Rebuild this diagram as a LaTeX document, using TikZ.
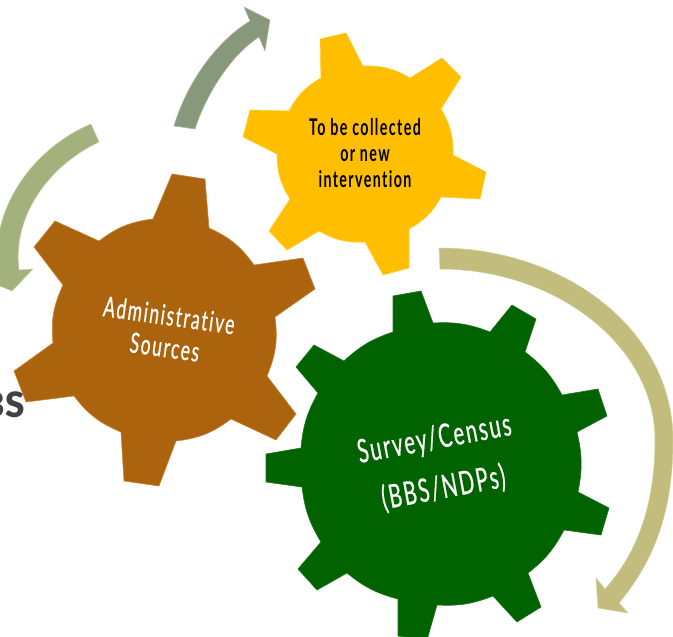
\documentclass[tikz,border=0pt]{standalone}
\usepackage{fontspec}
\newfontfamily\gearfont[FakeStretch=0.62,FakeBold=0.6,LetterSpace=6,Ligatures=NoCommon]{Lato}
\newfontfamily\gearboldfont[FakeStretch=0.62,LetterSpace=6,Ligatures=NoCommon]{Lato Bold}
\newfontfamily\cutfont{Lato Black}
\tikzset{
  gear/.style={line width=0.6pt,line join=miter,every to/.style={bend left=#1}},
  sweep/.style={line width=0.5pt,line join=miter},
  gearlabel/.style={inner sep=0pt,align=center,font=\gearfont}
}
\begin{document}
\begin{tikzpicture}[x=1pt,y=-1pt]
%
\useasboundingbox (0,0) rectangle (673,637);
%
\definecolor{cbrown}{rgb}{0.67,0.39,0.05}
\definecolor{cdbrown}{rgb}{0.78,0.52,0.22}
\definecolor{cyellow}{rgb}{1.0,0.75,0.0}
\definecolor{cdyellow}{rgb}{1.0,0.82,0.20}
\definecolor{cgreen}{rgb}{0.0,0.39,0.0}
\definecolor{cdgreen}{rgb}{0.12,0.46,0.12}
\definecolor{csweepa}{rgb}{0.64,0.70,0.49}
\definecolor{cdsweepa}{rgb}{0.76,0.81,0.64}
\definecolor{csweepb}{rgb}{0.53,0.60,0.48}
\definecolor{cdsweepb}{rgb}{0.68,0.74,0.64}
\definecolor{csweepc}{rgb}{0.76,0.74,0.49}
\definecolor{cdsweepc}{rgb}{0.83,0.81,0.62}
\definecolor{ccut}{rgb}{0.25,0.25,0.27}
%
\node[anchor=base east,inner sep=0pt,text=ccut,font=\cutfont\fontsize{35}{35}\selectfont] (cut) at (25,417) {BS};
%
\fill[csweepa,draw=cdsweepa,sweep] (91,124) .. controls (40,145) and (-8,200) .. (-3,268) -- (-15,280) -- (12,291) -- (33,269) -- (19,270) .. controls (12,215) and (50,165) .. (99,142) -- cycle;
\fill[csweepb,draw=cdsweepb,sweep] (174,126) .. controls (186,85) and (215,42) .. (250,21) -- (244,7) -- (270,20) -- (265,51) -- (259,37) .. controls (230,56) and (206,95) .. (195,129) -- cycle;
\fill[csweepc,draw=cdsweepc,sweep] (439,248) .. controls (565,248) and (673,330) .. (673,440) .. controls (673,510) and (655,560) .. (619,603) -- (628,613) -- (598,608) -- (596,578) -- (605,589) .. controls (640,550) and (655,500) .. (655,440) .. controls (655,345) and (555,269) .. (440,269) -- cycle;
%
\fill[cyellow,draw=cdyellow,gear=16] (320,39) -- (346,33) -- (363,66) to (410,78) -- (442,58) -- (461,77) -- (441,109) to (453,155) -- (486,172) -- (480,199) -- (441,197) to (409,229) -- (409,268) -- (383,275) -- (365,242) to (319,231) -- (287,250) -- (269,231) -- (290,199) to (277,154) -- (243,137) -- (250,110) -- (289,111) to (321,78) -- cycle;
\fill[cbrown,draw=cdbrown,gear=15] (172,174) -- (205,179) -- (209,228) to (254,265) -- (303,258) -- (315,289) -- (275,317) to (267,376) -- (296,414) -- (276,440) -- (231,419) to (176,441) -- (159,486) -- (124,481) -- (121,432) to (74,396) -- (26,402) -- (14,371) -- (53,343) to (63,285) -- (34,247) -- (55,221) -- (99,241) to (153,219) -- cycle;
\fill[cgreen,draw=cdgreen,gear=12] (393,296) -- (421,291) -- (433,323) to (490,332) -- (512,305) -- (536,319) -- (525,352) to (562,395) -- (598,389) -- (607,416) -- (577,432) to (578,492) -- (609,508) -- (601,535) -- (564,530) to (528,573) -- (541,607) -- (517,622) -- (493,596) to (437,605) -- (427,640) -- (398,636) -- (398,599) to (347,573) -- (317,590) -- (298,569) -- (321,542) to (302,487) -- (266,482) -- (266,454) -- (301,448) to (318,393) -- (296,367) -- (314,345) -- (344,361) to (393,332) -- cycle;
%
\node[gearlabel,font=\gearboldfont\fontsize{23}{26}\selectfont] (collected) at (365,153) {To be collected\\or new\\intervention};
\node[gearlabel,text=white,rotate=-8,font=\gearfont\fontsize{28}{32}\selectfont] (admin) at (167,331) {Administrative\\Sources};
\node[gearlabel,text=white,rotate=10.5,font=\gearfont\fontsize{32.5}{50}\selectfont] (survey) at (439,464) {Survey/Census\\(BBS/NDPs)};
%
\end{tikzpicture}
\end{document}
